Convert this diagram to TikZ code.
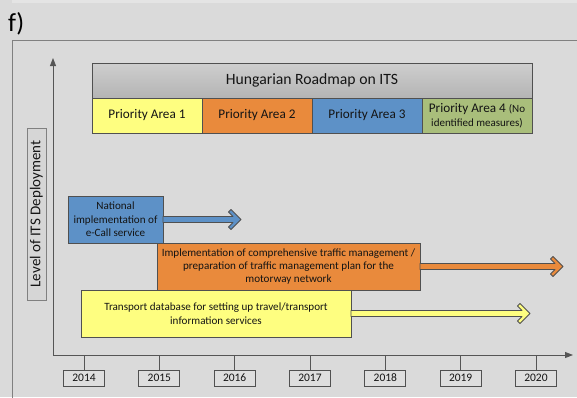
\documentclass[tikz,border=0pt]{standalone}
\usepackage{fontspec}
\setmainfont{Carlito}
\usetikzlibrary{calc,arrows.meta}

\definecolor{bg}{RGB}{218,218,218}
\definecolor{band}{RGB}{228,228,228}
\definecolor{frame}{RGB}{128,128,128}
\definecolor{edge}{RGB}{80,80,80}
\definecolor{axis}{RGB}{85,85,85}
\definecolor{ink}{RGB}{20,20,20}
\definecolor{titletop}{RGB}{206,206,206}
\definecolor{titlebot}{RGB}{180,180,180}
\definecolor{yel}{RGB}{254,254,128}
\definecolor{ora}{RGB}{233,138,60}
\definecolor{blu}{RGB}{93,145,199}
\definecolor{gre}{RGB}{169,190,123}
\definecolor{yearfill}{RGB}{222,222,222}
\definecolor{labfill}{RGB}{214,214,214}

% hollow-headed block arrow from a node anchor to a tip coordinate
\newcommand\chevarrow[3]{%
  \filldraw[fill=#3, draw=edge, line width=0.8pt, line join=round]
    let \p1=(#1), \p2=(#2) in
    (\x1,\y2+3pt) -- (\x2-8pt,\y2+3pt) -- (\x2-12.5pt,\y2+7.5pt)
    -- (\x2-10pt,\y2+10pt) -- (\x2,\y2) -- (\x2-10pt,\y2-10pt)
    -- (\x2-12.5pt,\y2-7.5pt) -- (\x2-8pt,\y2-3pt) -- (\x1,\y2-3pt) -- cycle;}

\tikzset{
  box/.style={draw=edge, line width=0.8pt, inner sep=0pt, outer sep=0pt,
    align=center, text=ink},
  pa/.style={box, minimum width=110pt, minimum height=35pt,
    font=\fontsize{13.2}{15}\selectfont},
  task/.style={box, font=\fontsize{11.1}{13.4}\selectfont},
  year/.style={box, fill=yearfill, minimum width=41pt, minimum height=16pt,
    font=\fontsize{11.5}{12}\selectfont},
  tick/.style={draw=axis, line width=0.8pt},
}

\begin{document}
\begin{tikzpicture}[x=1pt, y=-1pt]
  \useasboundingbox (0,0) rectangle (577,397);
  \fill[bg] (0,0) rectangle (577,397);
  \fill[band] (12,0) rectangle (577,2.5);

  % panel label and frame
  \node[anchor=west, font=\fontsize{26}{28}\selectfont, text=black, inner sep=0pt]
    (tag) at (8,24) {f)};
  \draw[frame, line width=0.8pt] (578,40) -- (12,40) -- (12,398);

  % axes
  \coordinate (origin) at (53,355);
  \coordinate (ytop) at (53,58);
  \coordinate (xend) at (573,355);
  \draw[axis, line width=0.9pt, -{Triangle[length=8pt,width=6pt]}] (origin) -- (ytop);
  \draw[axis, line width=0.9pt, -{Triangle[length=8pt,width=6pt]}] (origin) -- (xend);

  % y-axis label
  \node[draw=frame, line width=0.8pt, fill=labfill, minimum width=172pt,
    minimum height=19pt, inner sep=0pt, rotate=90,
    font=\fontsize{15}{17}\selectfont, text=ink] (ylab) at (36.5,214)
    {Level of ITS Deployment};

  % years
  \foreach \yr [count=\i from 0] in {2014,2015,2016,2017,2018,2019,2020} {
    \node[year] (y\yr) at ({84+75.33*\i},378) {\yr};
    \coordinate (t\yr) at ({84+75.33*\i},355);
    \draw[tick] (t\yr) -- (y\yr.north);
  }

  % roadmap header
  \node[box, top color=titletop, bottom color=titlebot, minimum width=440pt,
    minimum height=35pt, font=\fontsize{15.7}{18}\selectfont] (head) at (312,80.5)
    {Hungarian Roadmap on ITS};
  \node[pa, fill=yel] (pa1) at (147,115.5) {Priority Area 1};
  \node[pa, fill=ora] (pa2) at (257,115.5) {Priority Area 2};
  \node[pa, fill=blu] (pa3) at (367,115.5) {Priority Area 3};
  \node[pa, fill=gre] (pa4) at (477,115.5)
    {Priority Area 4 {\fontsize{11}{12}\selectfont(No}\\[-1pt]
     {\fontsize{11}{12}\selectfont identified measures)}};

  % measures and their time spans
  \coordinate (ecalltip) at (241,219.5);
  \coordinate (traffictip) at (563,266.5);
  \coordinate (datatip) at (530,313.5);

  \node[task, fill=blu, minimum width=95pt, minimum height=47pt] (ecall)
    at (115.5,219.5) {National\\implementation of\\e-Call service};
  \chevarrow{ecall.east}{ecalltip}{blu}

  \node[task, fill=ora, minimum width=263pt, minimum height=47pt] (traffic)
    at (288.5,266.5)
    {Implementation of comprehensive traffic management /\\
     preparation of traffic management plan for the\\motorway network};
  \chevarrow{traffic.east}{traffictip}{ora}

  \node[task, fill=yel, minimum width=270pt, minimum height=47pt] (data)
    at (216,313.5)
    {Transport database for setting up travel/transport\\information services};
  \chevarrow{data.east}{datatip}{yel}
\end{tikzpicture}
\end{document}
